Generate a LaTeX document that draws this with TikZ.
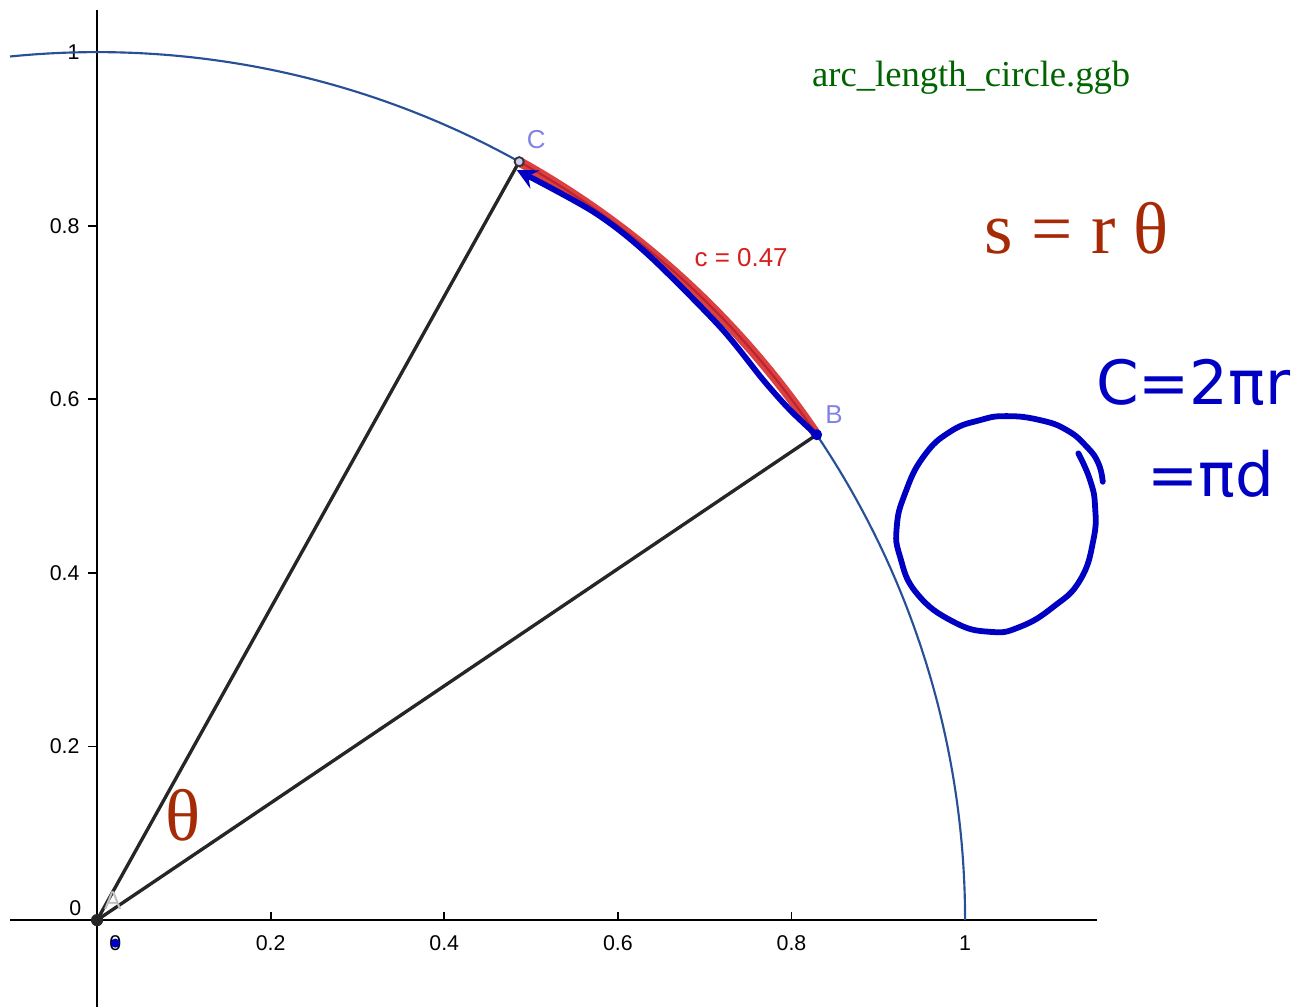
\documentclass[tikz,border=0pt]{standalone}
\usepackage{fontspec}
\setmainfont{Liberation Serif}
\setsansfont{Liberation Sans}
\newfontfamily\mainlevee{DejaVu Sans}
\usetikzlibrary{arrows.meta}

\definecolor{bleuarc}{RGB}{40,80,150}
\definecolor{vertfichier}{RGB}{0,100,0}
\definecolor{brique}{RGB}{165,42,5}
\definecolor{rougearc}{RGB}{215,30,30}
\definecolor{violetpt}{RGB}{130,130,230}
\definecolor{bleumain}{RGB}{0,0,195}

\begin{document}
\begin{tikzpicture}[x=10cm, y=10cm, >=stealth,
    axe/.style={line width=0.6pt, black},
    graduation/.style={font=\fontsize{7}{8}\sffamily, inner sep=1pt},
    rayon/.style={line width=1.1pt, black!85},
    cercle/.style={line width=0.7pt, bleuarc},
    main/.style={line width=1.9pt, bleumain, line cap=round, line join=round},
    etiquette/.style={font=\fontsize{8.5}{10}\sffamily, violetpt}]

    \useasboundingbox (-0.1118,-0.1002) rectangle (1.387,1.060);

    % Axes et graduations
    \draw[axe] (-0.1002,0) -- (1.152,0);
    \draw[axe] (0,-0.1002) -- (0,1.048);
    \foreach \x in {0.2,0.4,0.6,0.8,1} {
        \draw[axe] (\x,0) -- (\x,0.009);
        \node[graduation] at (\x,-0.0265) {\x};
    }
    \foreach \y in {0.2,0.4,0.6,0.8,1} {
        \draw[axe] (0,\y) -- (-0.010,\y);
        \node[graduation, anchor=east] at (-0.016,\y) {\y};
    }
    \node[graduation] (zeroy) at (-0.025,0.014) {0};
    \node[graduation] (zerox) at (0.021,-0.0265) {0};
    \fill[bleumain] (zerox) circle (1.5pt);

    % Cercle unite
    \draw[cercle] (95.75:1) arc (95.75:0:1);

    % Points et rayons
    \coordinate (A) at (0,0);
    \coordinate (B) at (34:1);
    \coordinate (C) at (60.9:1);
    \draw[rayon] (A) -- (B);
    \draw[rayon] (A) -- (C);

    % Arc BC
    \draw[rougearc, line width=3.2pt, opacity=0.85] (B) arc (34:60.9:1);
    \node[font=\fontsize{8.5}{10}\sffamily, rougearc] (longueur) at (0.742,0.763) {c = 0.47};

    % Trait a main sur l'arc
    \draw[main, ->] (B) plot[smooth] coordinates {(0.8310,0.5568) (0.7984,0.5876) (0.7676,0.6221)
        (0.7177,0.6835) (0.6333,0.7681) (0.5718,0.8160) (0.4835,0.8641)};
    \fill[bleumain] (B) circle (1.8pt);

    \filldraw[fill=violetpt!40, draw=black!80, line width=0.6pt] (C) circle (1.5pt);
    \fill[black!85] (A) circle (2pt);
    \node[etiquette] (labC) at (0.506,0.899) {C};
    \node[etiquette] (labB) at (0.849,0.582) {B};
    \node[font=\fontsize{8.5}{10}\sffamily, black!25] (labA) at (0.018,0.023) {A};

    % Textes
    \node[font=\fontsize{12}{14}\selectfont, vertfichier] (fichier) at (1.007,0.970) {arc\_length\_circle.ggb};
    \node[font=\fontsize{24}{28}\selectfont, brique] (formule) at (1.129,0.797) {s = r θ};
    \node[font=\fontsize{24}{28}\selectfont, brique] (angle) at (0.099,0.121) {θ};

    % Cercle et formules a main levee
    \draw[main] plot[smooth, tension=0.8] coordinates {(1.1305,0.5377) (1.1440,0.5069) (1.1498,0.4762)
        (1.1478,0.4378) (1.1325,0.3917) (1.1017,0.3609) (1.0634,0.3379) (1.0288,0.3321)
        (0.9865,0.3437) (0.9444,0.3764) (0.9251,0.4186) (0.9213,0.4531) (0.9309,0.4916)
        (0.9520,0.5338) (0.9827,0.5626) (1.0173,0.5760) (1.0480,0.5806) (1.0864,0.5760)
        (1.1172,0.5645) (1.1402,0.5453) (1.1536,0.5262) (1.1586,0.5050)};
    \node[font=\fontsize{20}{24}\mainlevee, bleumain] (perimetre) at (1.263,0.620) {C=2πr};
    \node[font=\fontsize{20}{24}\mainlevee, bleumain] (diametre) at (1.283,0.514) {=πd};
\end{tikzpicture}
\end{document}
